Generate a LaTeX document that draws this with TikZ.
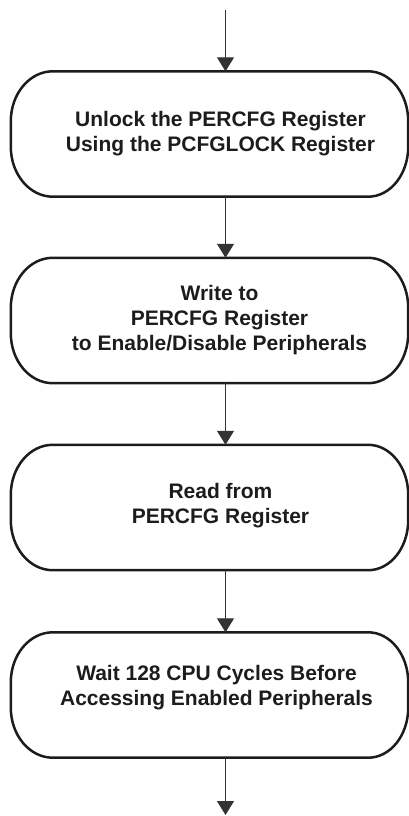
\documentclass[tikz,border=0pt]{standalone}
\usepackage{fontspec}
\setmainfont{Liberation Sans}
\usetikzlibrary{arrows.meta,calc}
\definecolor{ink}{HTML}{1C1C1C}
\definecolor{arrink}{HTML}{333333}
\tikzset{
  boxframe/.style={draw=none, inner sep=0pt, minimum width=397pt, minimum height=125pt},
  boxline/.style={draw=ink, line width=2.5pt},
  boxtext/.style={align=center, text=ink, font=\fontsize{21}{25}\selectfont\bfseries, inner sep=0pt},
  arr/.style={draw=arrink, line width=1.1pt, -{Triangle[width=17pt,length=14pt]}}
}
\begin{document}
\begin{tikzpicture}[x=1pt,y=1pt]
\useasboundingbox (0,0) rectangle (409,-816);
\coordinate (ax) at (225.5,0);
\coordinate (start) at (225.5,-10);
\coordinate (finish) at (225.5,-815);
\node[boxframe] (b1) at (209.5,-134) {};
\node[boxframe] (b2) at (209.5,-320.5) {};
\node[boxframe] (b3) at (209.5,-507.5) {};
\node[boxframe] (b4) at (209.5,-695) {};
\foreach \n in {b1,b2,b3,b4}{
  \draw[boxline] ([xshift=42pt]\n.north west) -- ([xshift=-40pt]\n.north east)
    arc[start angle=90,end angle=0,x radius=40pt,y radius=50pt]
    -- ([yshift=50pt]\n.south east)
    arc[start angle=0,end angle=-90,x radius=40pt,y radius=50pt]
    -- ([xshift=42pt]\n.south west)
    arc[start angle=270,end angle=180,x radius=42pt,y radius=50pt]
    -- ([yshift=-50pt]\n.north west)
    arc[start angle=180,end angle=90,x radius=42pt,y radius=50pt] -- cycle;
}
\node[boxtext] (t1) at ([xshift=11pt]b1.center) {Unlock the PERCFG Register\\Using the PCFGLOCK Register};
\node[boxtext] (t2) at ([xshift=10pt,yshift=0pt]b2.center) {Write to\\PERCFG Register\\to Enable/Disable Peripherals};
\node[boxtext] (t3) at ([xshift=11pt,yshift=2pt]b3.center) {Read from\\PERCFG Register};
\node[boxtext] (t4) at ([xshift=7pt,yshift=7pt]b4.center) {Wait 128 CPU Cycles Before\\Accessing Enabled Peripherals};
\draw[arr] (start) -- (b1.north -| ax);
\draw[arr] (b1.south -| ax) -- (b2.north -| ax);
\draw[arr] (b2.south -| ax) -- (b3.north -| ax);
\draw[arr] (b3.south -| ax) -- (b4.north -| ax);
\draw[arr] (b4.south -| ax) -- (finish);
\end{tikzpicture}
\end{document}
